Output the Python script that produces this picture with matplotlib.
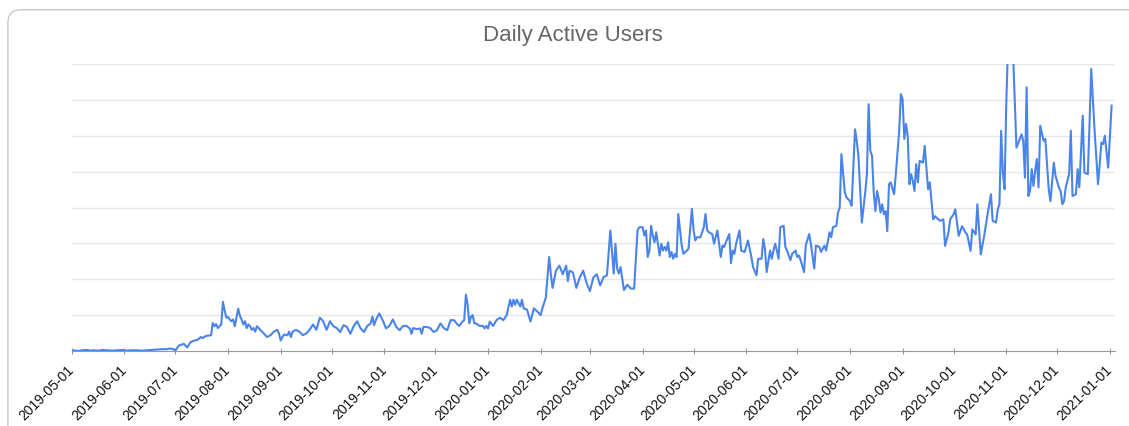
import numpy as np
import pandas as pd
import matplotlib
matplotlib.use("Agg")
import matplotlib.pyplot as plt
import matplotlib.dates as mdates
from matplotlib.patches import FancyBboxPatch

# --- data (days since 2019-05-01, value in grid units x100) ---
START = "2019-05-01"
day_offset = [
    0, 2, 4, 6, 9, 11, 13, 16, 18, 21, 24, 27, 30, 32, 35, 38, 41, 44, 47, 50, 53, 56, 58, 60, 61,
    63, 66, 68, 70, 72, 74, 76, 77, 79, 82, 83, 84, 85, 86, 87, 88, 89, 90, 91, 92, 93, 94, 95, 96,
    97, 98, 99, 100, 101, 102, 103, 104, 105, 106, 107, 108, 109, 110, 111, 113, 115, 117, 119, 121,
    122, 123, 124, 125, 127, 128, 129, 130, 132, 134, 136, 138, 140, 142, 144, 146, 148, 150, 152,
    154, 156,
    158, 160, 162, 164, 166, 168, 170, 172, 174, 176, 177, 178, 179, 181, 183, 185, 187, 189, 191,
    193, 195, 197, 199, 200, 201, 203, 205, 206, 207, 209, 211, 213, 215, 217, 219, 221, 223, 225,
    227, 228, 230, 231, 232, 233, 234, 235, 236, 237, 238, 240, 242, 243, 244, 245, 246, 248, 250,
    252, 254, 256, 258, 259, 260, 261, 262, 264, 265, 266, 268, 270, 272, 274, 276, 277, 278, 279,
    281, 282, 283, 285, 287, 289, 291, 292, 293, 295, 297, 299, 301, 303, 305, 307, 309,
    311, 313, 315, 317, 319, 320, 321, 322, 323, 325, 327, 329, 331, 333, 334, 336, 337, 338, 339,
    340, 341, 342, 343, 344, 346, 347, 348, 349, 350, 351, 352, 353, 354, 355, 356, 357, 359, 360,
    362, 363, 365, 366, 367, 368, 370, 372, 373, 374, 375, 377, 378, 380, 382, 383, 384, 385, 387,
    388, 389, 390, 391, 393, 394, 396, 398, 400, 401, 403, 404, 406, 407, 408, 409, 411, 412, 413,
    414, 415, 416, 417, 419, 420, 421, 423, 424, 426, 427, 428, 429, 431, 432, 434, 435, 437, 438,
    440, 441, 443, 444, 446, 447, 448, 450, 451,
    452, 453, 455, 456, 458, 459, 461, 462, 463, 465, 467, 468, 469, 470, 471, 472, 473, 474, 475,
    476, 477, 478, 479, 480, 481, 482, 484, 485, 487, 488, 489, 490, 491, 492, 493, 494, 495, 496,
    497, 498, 499, 501, 502, 504, 505, 507, 508, 510, 511, 513, 514, 516, 517, 519, 520, 522,
    524, 526, 527, 529, 530, 532, 533, 535, 537, 539, 541, 542, 544, 545, 546, 547, 548, 549, 550,
    552, 554, 556, 558, 559, 560, 561, 562, 563, 564, 565, 566, 567, 568, 569, 570, 572, 573, 575,
    576, 578, 579, 581, 582, 583, 584, 585, 587, 588, 589, 591, 592, 593, 595, 596, 598, 599, 600,
    602, 604, 605, 606, 607, 608, 610, 612,
]
dau = [
    2, 1, 0, 2, 3, 1, 2, 1, 3, 2, 1, 2, 3, 1, 2, 2, 1, 2, 3, 4, 5, 5, 7, 5, 1,
    15, 20, 10, 25, 29, 31, 39, 36, 42, 44, 78, 69, 75, 64, 69, 74, 137, 113, 93, 95, 88, 83, 88, 69,
    93, 118, 98, 88, 74, 83, 64, 74, 69, 59, 64, 54, 69, 64, 59, 49, 39, 44, 54, 59,
    49, 29, 39, 46, 44, 54, 39, 54, 59, 54, 44, 49, 59, 74, 59, 93, 83, 59, 83,
    69, 64,
    53, 72, 67, 48, 70, 83, 63, 53, 70, 77, 96, 72, 86, 105, 86, 63, 70, 88, 67,
    58, 70, 70, 63, 48, 64, 61, 63, 48, 67, 67, 64, 53, 58, 77, 64, 58, 86, 86,
    74, 70, 82, 86, 157, 129, 77, 96, 100, 77, 77, 70, 70, 63, 70, 63, 82, 70, 86,
    93, 86, 100, 143, 124, 143, 129, 143, 124, 143, 119, 115, 82, 119, 110, 100, 119, 134, 148,
    262, 214, 176, 224, 238, 214, 238, 195, 224, 219, 176, 205, 224, 190, 167, 205, 214,
    183, 206, 211, 336, 216, 299, 230, 216, 234, 170, 185, 174, 174, 336, 345, 345, 322, 336, 262,
    280, 349, 322, 303, 331, 266, 299, 280, 290, 280, 303, 262, 276, 257, 271, 262, 382, 294, 271,
    280, 285, 396, 336, 308, 317, 317, 345, 382, 336, 331, 326, 299, 336, 262, 294, 290, 303, 326,
    245, 280, 271, 299, 336, 280, 276, 308, 262, 234, 211, 257, 257, 312, 285, 220, 280, 257, 280,
    299, 280, 257, 345, 349, 290, 280, 253, 271, 280, 262, 266, 253, 220, 294, 326, 299, 230, 294,
    290, 276, 294, 280, 331, 317, 345, 349, 386,
    400, 549, 442, 428, 418, 405, 618, 586, 544, 358, 442, 493, 688, 558, 544, 442, 390, 446, 423,
    386, 409, 381, 390, 334, 465, 470, 437, 493, 614, 716, 702, 591, 633, 600, 465, 493, 474, 446,
    521, 470, 530, 525, 572, 451, 470, 367, 376, 367, 363, 367, 293, 330, 367, 381, 395, 321,
    348, 330, 325, 279, 339, 325, 409, 269, 321, 381, 437, 363, 358, 395, 409, 614, 497, 451, 688,
    1000, 830, 567, 591, 604, 586, 483, 735, 432, 446, 507, 460, 502, 535, 456, 628, 586, 591, 451,
    418, 525, 488, 456, 446, 409, 418, 456, 493, 614, 432, 437, 507, 456, 656, 497, 493, 632, 786,
    614, 465, 521, 581, 577, 600, 511, 684,
]

TITLE = "Daily Active Users"
LINE_COLOR = "#4a84ea"

dates = pd.Timestamp(START) + pd.to_timedelta(day_offset, unit="D")
month_ticks = pd.date_range("2019-05-01", "2021-01-01", freq="MS")

plt.rcParams["font.family"] = ["Liberation Sans", "DejaVu Sans"]

fig = plt.figure(figsize=(11.29, 4.27), dpi=100)
# rounded card border
card = FancyBboxPatch((0.007, -0.05), 1.05, 1.025, transform=fig.transFigure,
                      boxstyle="round,pad=0,rounding_size=0.012", mutation_aspect=2.6,
                      facecolor="white", edgecolor="#c8c8c8", linewidth=1.0, zorder=-5)
fig.patches.append(card)

ax = fig.add_axes([0.0635, 0.1756, 0.9241, 0.6722])
ax.set_zorder(2)
ax.set_facecolor("none")
ax.plot(dates, dau, color=LINE_COLOR, linewidth=1.5, zorder=3, solid_joinstyle="round")

ax.set_ylim(0, 800)
ax.set_yticks(np.arange(100, 801, 100))
ax.yaxis.grid(True, color="#e6e6e6", linewidth=1.0)
ax.tick_params(axis="y", length=0, labelleft=False)

ax.set_xlim(pd.Timestamp(START), pd.Timestamp(START) + pd.Timedelta(days=614))
ax.set_xticks(month_ticks)
ax.xaxis.set_major_formatter(mdates.DateFormatter("%Y-%m-%d"))
ax.tick_params(axis="x", length=4.5, width=0.8, color="#999999", labelsize=10,
               labelcolor="#111111", pad=9, direction="inout")
for lbl in ax.get_xticklabels():
    lbl.set_rotation(45)
    lbl.set_ha("right")
    lbl.set_va("center")
    lbl.set_rotation_mode("anchor")

for side in ("top", "right", "left"):
    ax.spines[side].set_visible(False)
ax.spines["bottom"].set_color("#999999")
ax.spines["bottom"].set_linewidth(0.8)

fig.text(0.507, 0.918, TITLE, ha="center", va="center", fontsize=16, color="#666666")

fig.savefig("out.png", dpi=100)
